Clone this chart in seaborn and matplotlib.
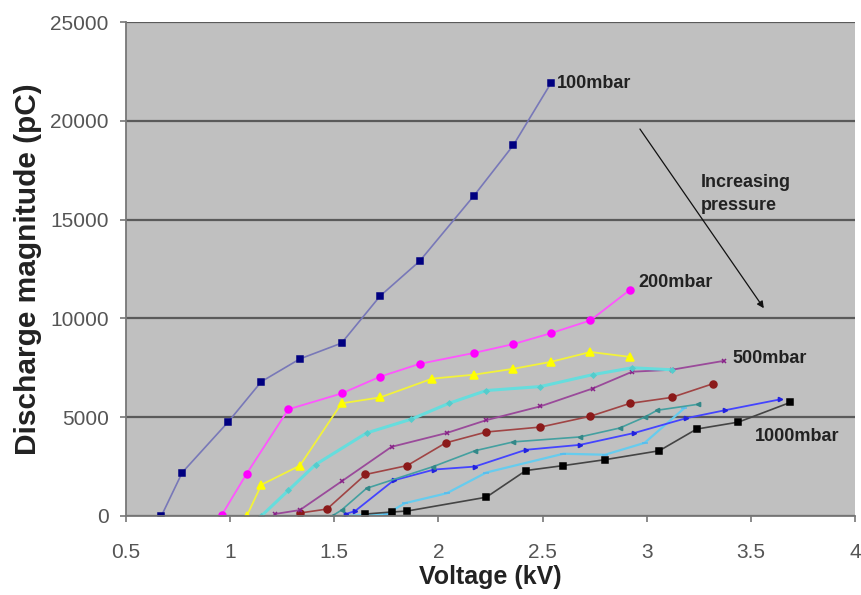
"""Discharge magnitude vs voltage at several pressures."""
import matplotlib

matplotlib.use("Agg")
import matplotlib.pyplot as plt
import pandas as pd
import seaborn as sns

# series (kV, pC)
v_100 = [0.67, 0.77, 0.99, 1.15, 1.335, 1.535, 1.72, 1.91, 2.17, 2.36, 2.54]
q_100 = [0, 2200, 4750, 6800, 7950, 8750, 11130, 12900, 16200, 18770, 21900]

v_200 = [0.96, 1.08, 1.28, 1.535, 1.72, 1.91, 2.17, 2.36, 2.54, 2.73, 2.92]
q_200 = [50, 2150, 5400, 6200, 7050, 7700, 8250, 8700, 9250, 9900, 11450]

v_yel = [1.08, 1.15, 1.335, 1.535, 1.72, 1.97, 2.17, 2.36, 2.54, 2.73, 2.92]
q_yel = [0, 1580, 2550, 5700, 6000, 6950, 7150, 7450, 7800, 8300, 8050]

v_cyan = [1.15, 1.28, 1.41, 1.655, 1.87, 2.05, 2.23, 2.49, 2.74, 2.93, 3.12]
q_cyan = [0, 1300, 2600, 4200, 4900, 5700, 6350, 6550, 7150, 7500, 7400]

v_500 = [1.215, 1.335, 1.535, 1.775, 2.04, 2.23, 2.49, 2.74, 2.93, 3.12, 3.37]
q_500 = [100, 300, 1750, 3500, 4200, 4850, 5550, 6450, 7300, 7400, 7850]

v_red = [1.335, 1.465, 1.65, 1.85, 2.035, 2.23, 2.49, 2.73, 2.92, 3.12, 3.32]
q_red = [150, 350, 2100, 2550, 3700, 4250, 4500, 5050, 5700, 6000, 6700]

v_teal = [1.49, 1.535, 1.655, 1.975, 2.175, 2.36, 2.68, 2.87, 2.99, 3.05, 3.245]
q_teal = [0, 300, 1400, 2500, 3300, 3750, 4000, 4450, 5000, 5350, 5650]

v_blue = [1.555, 1.60, 1.785, 1.98, 2.175, 2.42, 2.68, 2.94, 3.19, 3.375, 3.64]
q_blue = [100, 250, 1800, 2350, 2500, 3350, 3600, 4200, 4950, 5350, 5900]

v_sky = [1.55, 1.75, 1.84, 2.04, 2.23, 2.6, 2.8, 2.99, 3.18]
q_sky = [0, 100, 650, 1150, 2200, 3150, 3100, 3700, 5450]

v_1000 = [1.65, 1.775, 1.85, 2.23, 2.42, 2.60, 2.80, 3.06, 3.24, 3.44, 3.69]
q_1000 = [100, 200, 250, 950, 2300, 2550, 2850, 3300, 4400, 4750, 5750]

SERIES = [
    (v_sky, q_sky, "#66ccee", "#55bbee", "_", 4, 1.6),
    (v_1000, q_1000, "#444444", "black", "s", 5, 1.2),
    (v_blue, q_blue, "#4444ff", "#2222dd", ">", 3, 1.3),
    (v_teal, q_teal, "#44a0a0", "#338888", "<", 3, 1.2),
    (v_red, q_red, "#a04444", "#8b1a1a", "o", 5, 1.2),
    (v_500, q_500, "#9a4a9a", "#882288", "x", 3.5, 1.3),
    (v_cyan, q_cyan, "#66dddd", "#55cccc", "D", 2.5, 2.2),
    (v_yel, q_yel, "#f2f23a", "#ffff00", "^", 6, 1.3),
    (v_200, q_200, "#ff55ff", "#ff00ff", "o", 5, 1.3),
    (v_100, q_100, "#7878b8", "#000080", "s", 4.5, 1.2),
]

plt.rcParams["font.family"] = ["Liberation Sans", "DejaVu Sans"]

fig = plt.figure(figsize=(8.61, 5.95), dpi=100)
ax = fig.add_axes([0.1463, 0.1328, 0.8467, 0.8302])
ax.set_facecolor("#c0c0c0")

for v, q, lc, mc, mk, ms, lw in SERIES:
    sns.lineplot(
        x=v, y=q, ax=ax, sort=False, color=lc, linewidth=lw,
        marker=mk, markersize=ms, markerfacecolor=mc, markeredgecolor=mc,
        markeredgewidth=1.1, estimator=None,
    )

ax.set_xlim(0.5, 4)
ax.set_ylim(0, 25000)
ax.set_xticks([0.5, 1, 1.5, 2, 2.5, 3, 3.5, 4])
ax.set_xticklabels(["0.5", "1", "1.5", "2", "2.5", "3", "3.5", "4"])
ax.set_yticks(range(0, 25001, 5000))
ax.yaxis.grid(True, color="#5a5a5a", linewidth=1.6)
ax.set_axisbelow(True)
for side in ["top", "right"]:
    ax.spines[side].set_visible(False)
for side in ["left", "bottom"]:
    ax.spines[side].set_color("#777777")
    ax.spines[side].set_linewidth(1.3)
ax.tick_params(axis="both", labelsize=15, color="#777777", length=4.5, width=1.2,
               labelcolor="#555555")
ax.tick_params(axis="x", pad=15)
ax.tick_params(axis="y", pad=8)

ax.set_xlabel("Voltage (kV)", fontsize=18, fontweight="bold", labelpad=2,
              color="#222222")
ax.set_ylabel("Discharge magnitude (pC)", fontsize=21.5, fontweight="bold",
              labelpad=6, color="#222222")

lab = dict(fontsize=13, fontweight="bold", color="#222222", va="center")
ax.text(2.57, q_100[-1], "100mbar", ha="left", **lab)
ax.text(2.96, q_200[-1] + 350, "200mbar", ha="left", **lab)
ax.text(3.41, q_500[-1] + 100, "500mbar", ha="left", **lab)
ax.text(3.52, 4000, "1000mbar", ha="left", **lab)
ax.text(3.26, 16300, "Increasing\npressure", ha="left", fontsize=13,
        fontweight="bold", color="#222222", va="center", linespacing=1.5)
ax.annotate("", xy=(3.57, 10400), xytext=(2.96, 19700),
            arrowprops=dict(arrowstyle="-|>", color="#111111", lw=0.9,
                            mutation_scale=10))

fig.savefig("out.png", dpi=100)
